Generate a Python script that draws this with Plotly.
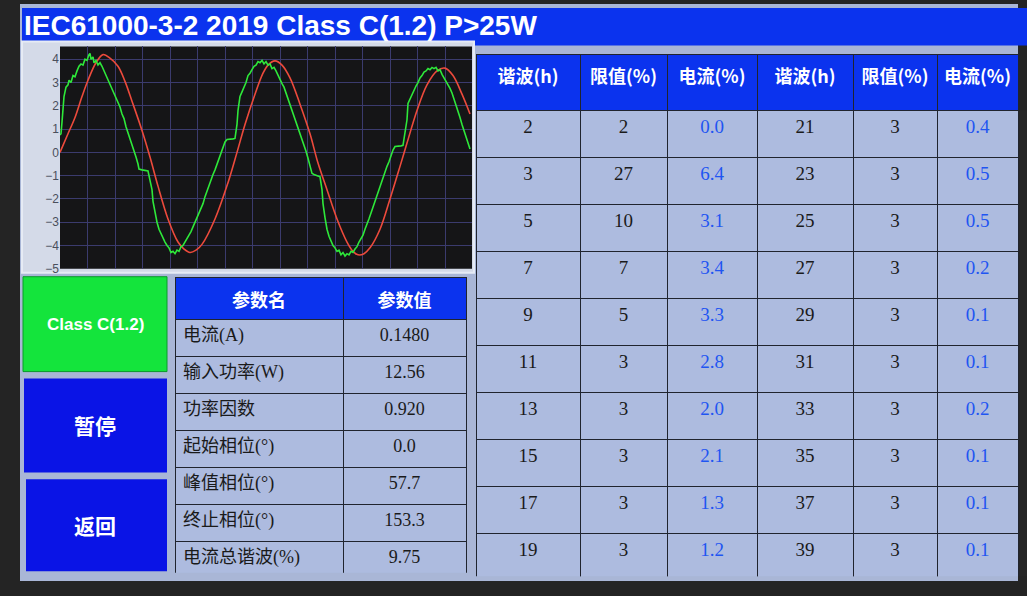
import plotly.graph_objects as go

W, H = 1027, 596

title_text = "IEC61000-3-2 2019 Class C(1.2) P>25W"

# waveform (x in screen pixels from the left edge of the plot)
red_x = [0, 8, 15, 22, 28, 36, 43, 50, 58, 65, 72, 82, 90, 98, 108, 118, 124, 130, 136, 142,
         155, 168, 177, 185, 195, 203, 208, 215, 222, 230, 240, 250, 258, 267, 277, 287, 293,
         298, 304, 310, 320, 330, 340, 347, 357, 367, 377, 385, 393, 402, 410]
red_y = [0, 0.8, 1.5, 2.4, 3.1, 3.85, 4.2, 4.05, 3.7, 3.05, 2.2, 0.94, -0.2, -1.45, -2.86, -3.85,
         -4.15, -4.3, -4.2, -3.95, -2.86, -1.3, 0, 1.2, 2.5, 3.4, 3.75, 3.93, 3.75, 3.2, 2.07, 0.8,
         -0.46, -1.6, -2.86, -3.85, -4.25, -4.4, -4.35, -4.1, -3.3, -2.0, -0.6, 0.4, 1.8, 2.9, 3.5,
         3.62, 3.3, 2.5, 1.65]

green_x = [0, 1, 2, 3, 4, 6, 8, 9, 11, 13, 15, 17, 19, 21, 23, 25, 27, 29, 30, 31, 33, 34, 36, 38,
           40, 42, 44, 46, 48, 50, 52, 54, 56, 58, 60, 62, 64, 66, 68, 70, 72, 74, 76, 78, 79, 82,
           85, 88, 90, 92, 93, 95, 97, 99, 101, 103, 105, 107, 109, 111, 113, 115, 117, 119, 121,
           123, 125, 127, 129, 131, 133, 135, 137, 139, 141, 143, 145, 147, 149, 151, 153, 155,
           157, 159, 161, 163, 165, 167, 170, 173, 175, 177, 178, 180, 182, 184, 186, 188, 190,
           192, 194, 196, 198, 200, 202, 204, 206, 208, 210, 212, 214, 216, 218, 220, 222, 224,
           226, 228, 230, 232, 234, 236, 238, 240, 242, 244, 246, 248, 250, 252, 254, 257, 260,
           262, 263, 265, 267, 269, 271, 273, 275, 277, 279, 281, 283, 285, 287, 289, 291, 293,
           295, 297, 299, 301, 303, 305, 307, 309, 311, 313, 315, 317, 319, 321, 323, 325, 327,
           329, 331, 333, 335, 338, 341, 343, 345, 347, 348, 350, 352, 354, 356, 358, 360, 362,
           364, 366, 368, 370, 372, 374, 376, 378, 380, 382, 384, 386, 388, 390, 392, 394, 396,
           398, 400, 402, 404, 406, 408, 410]
green_y = [0.75, 0.8, 1.3, 1.9, 2.4, 2.8, 2.9, 3.1, 3.0, 3.3, 3.25, 3.5, 3.7, 3.8, 3.75, 4.0, 3.95,
           4.2, 4.25, 4.0, 4.1, 3.85, 3.95, 3.75, 3.85, 3.7, 3.5, 3.3, 3.1, 2.95, 2.7, 2.5, 2.35,
           2.1, 1.95, 1.65, 1.45, 1.1, 0.85, 0.6, 0.35, 0.1, -0.2, -0.5, -0.72, -0.75, -0.78, -0.8,
           -1.2, -1.6, -2.1, -2.6, -3.0, -3.3, -3.5, -3.7, -3.85, -4.0, -4.1, -4.3, -4.25, -4.35,
           -4.2, -4.25, -4.05, -4.0, -3.85, -3.75, -3.6, -3.4, -3.2, -3.0, -2.8, -2.6, -2.4, -2.2,
           -1.9, -1.65, -1.4, -1.2, -0.95, -0.75, -0.5, -0.3, -0.05, 0.2, 0.45, 0.55, 0.55, 0.58,
           0.6, 1.2, 1.8, 2.4, 2.6, 2.8, 3.0, 3.3, 3.4, 3.55, 3.7, 3.75, 3.9, 3.85, 3.95, 3.8, 3.9,
           3.75, 3.8, 3.6, 3.65, 3.5, 3.3, 3.15, 2.95, 2.8, 2.55, 2.35, 2.1, 1.85, 1.6, 1.35, 1.05,
           0.8, 0.55, 0.3, 0.05, -0.25, -0.55, -0.9, -0.95, -1.0, -1.05, -1.6, -2.2, -2.8, -3.3,
           -3.6, -3.8, -4.0, -4.1, -4.25, -4.2, -4.4, -4.3, -4.45, -4.35, -4.4, -4.25, -4.3, -4.15,
           -4.05, -3.85, -3.7, -3.55, -3.3, -3.1, -2.85, -2.6, -2.35, -2.1, -1.85, -1.6, -1.3,
           -1.05, -0.8, -0.6, -0.4, -0.15, 0.1, 0.25, 0.25, 0.28, 0.3, 0.9, 1.4, 2.1, 2.3, 2.5,
           2.7, 2.85, 3.0, 3.2, 3.3, 3.45, 3.5, 3.6, 3.55, 3.65, 3.6, 3.65, 3.5, 3.55, 3.35, 3.2,
           3.1, 2.9, 2.75, 2.55, 2.3, 2.0, 1.75, 1.5, 1.2, 0.95, 0.7, 0.45, 0.15]

# parameter table
param_names = ["电流(A)", "输入功率(W)", "功率因数", "起始相位(°)", "峰值相位(°)", "终止相位(°)", "电流总谐波(%)"]
param_values = ["0.1480", "12.56", "0.920", "0.0", "57.7", "153.3", "9.75"]

# harmonics table
harm_a = [2, 3, 5, 7, 9, 11, 13, 15, 17, 19]
limit_a = [2, 27, 10, 7, 5, 3, 3, 3, 3, 3]
current_a = ["0.0", "6.4", "3.1", "3.4", "3.3", "2.8", "2.0", "2.1", "1.3", "1.2"]
harm_b = [21, 23, 25, 27, 29, 31, 33, 35, 37, 39]
limit_b = [3, 3, 3, 3, 3, 3, 3, 3, 3, 3]
current_b = ["0.4", "0.5", "0.5", "0.2", "0.1", "0.1", "0.2", "0.1", "0.1", "0.1"]

buttons = ["Class C(1.2)", "暂停", "返回"]

BLUE = "#0b33ee"
CELL = "#adbbdf"
SCREEN = "#a9b6d6"
SERIF = "Liberation Serif, Noto Sans CJK SC"


def px(x):
    return x / W


def py(y):
    return 1 - y / H


def box(x0, y0, x1, y1, fill, line=None):
    return dict(type="rect", xref="paper", yref="paper", x0=px(x0), x1=px(x1), y0=py(y1), y1=py(y0),
                fillcolor=fill, line=line or dict(width=0), layer="below")


def label(text, x, y, size, family, anchor="center"):
    return dict(text="<b>" + text + "</b>", x=px(x), y=py(y), xref="paper", yref="paper",
                xanchor=anchor, yanchor="middle", showarrow=False,
                font=dict(family=family, size=size, color="white"))


fig = go.Figure()

fig.add_trace(go.Scatter(x=red_x, y=red_y, mode="lines", line=dict(color="#ec4a3c", width=1.6, shape="spline"),
                         showlegend=False, hoverinfo="skip"))
fig.add_trace(go.Scatter(x=green_x, y=green_y, mode="lines", line=dict(color="#2ee83a", width=1.6),
                         showlegend=False, hoverinfo="skip"))

fig.add_trace(go.Table(
    domain=dict(x=[px(175), px(466)], y=[py(580), py(281)]),
    columnwidth=[168, 123],
    header=dict(values=["<b>参数名</b>", "<b>参数值</b>"], fill_color=BLUE, height=37,
                line=dict(color="#20242e", width=1),
                font=dict(family="Noto Sans CJK SC", size=18, color="white"), align="center"),
    cells=dict(values=[param_names, param_values], fill_color=CELL, height=37,
               line=dict(color="#20242e", width=1),
               font=dict(family=SERIF, size=18, color="#1a1a1a"), align=["left", "center"]),
))

fig.add_trace(go.Table(
    domain=dict(x=[px(476), px(1018)], y=[py(584), py(55)]),
    columnwidth=[104, 87, 90, 96, 84, 81],
    header=dict(values=["<b>谐波(h)</b>", "<b>限值(%)</b>", "<b>电流(%)</b>",
                        "<b>谐波(h)</b>", "<b>限值(%)</b>", "<b>电流(%)</b>"],
                fill_color=BLUE, height=56, line=dict(color="#20242e", width=1),
                font=dict(family="Noto Sans CJK SC", size=18, color="white"), align="center"),
    cells=dict(values=[harm_a, limit_a, current_a, harm_b, limit_b, current_b], fill_color=CELL,
               height=47, line=dict(color="#20242e", width=1),
               font=dict(family=SERIF, size=19,
                         color=["#1a1a1a", "#1a1a1a", "#1f55f2", "#1a1a1a", "#1a1a1a", "#1f55f2"]),
               align="center"),
))

shapes = [
    box(20, 4, 1018, 588, SCREEN),                      # screen
    box(22, 8, 1027, 46, BLUE),                         # title bar
    box(22, 42, 474, 276, "#d4dae8", dict(color="#e6ebf5", width=2)),  # chart frame
    box(60, 47, 472, 272, "#151517"),                   # scope background
    box(23, 280, 167, 376, "#14e43c", dict(color="#0a9a2a", width=1)),
    box(24, 383, 167, 478, "#0a14e6"),
    box(26, 485, 167, 578, "#0a14e6"),
]

annotations = [
    label(title_text, 22, 26, 28, "Liberation Sans, Arial", anchor="left"),
    label(buttons[0], 95, 328, 17, "Liberation Sans, Arial"),
    label(buttons[1], 95, 430, 21, "Noto Sans CJK SC"),
    label(buttons[2], 95, 531, 21, "Noto Sans CJK SC"),
]

fig.update_layout(
    width=W, height=H,
    margin=dict(l=0, r=0, t=0, b=0),
    paper_bgcolor="#242424",
    plot_bgcolor="#151517",
    shapes=shapes,
    annotations=annotations,
    xaxis=dict(domain=[px(60), px(472)], range=[0, 412], showticklabels=False, ticks="",
               showgrid=True, gridcolor="#3b3b6e", gridwidth=1, tick0=0, dtick=27.5, zeroline=False),
    yaxis=dict(domain=[py(272), py(47)], range=[-5.0, 4.55], dtick=1, showgrid=True,
               gridcolor="#3b3b6e", gridwidth=1, zeroline=False, ticks="",
               tickfont=dict(family="Liberation Sans, Arial", size=12, color="#4a4f5c")),
)

# the page body has an 8px default margin; drop it so the figure fills the window
fig.write_html("out.html", config={"displayModeBar": False},
               post_script="document.body.style.margin='0px';")
